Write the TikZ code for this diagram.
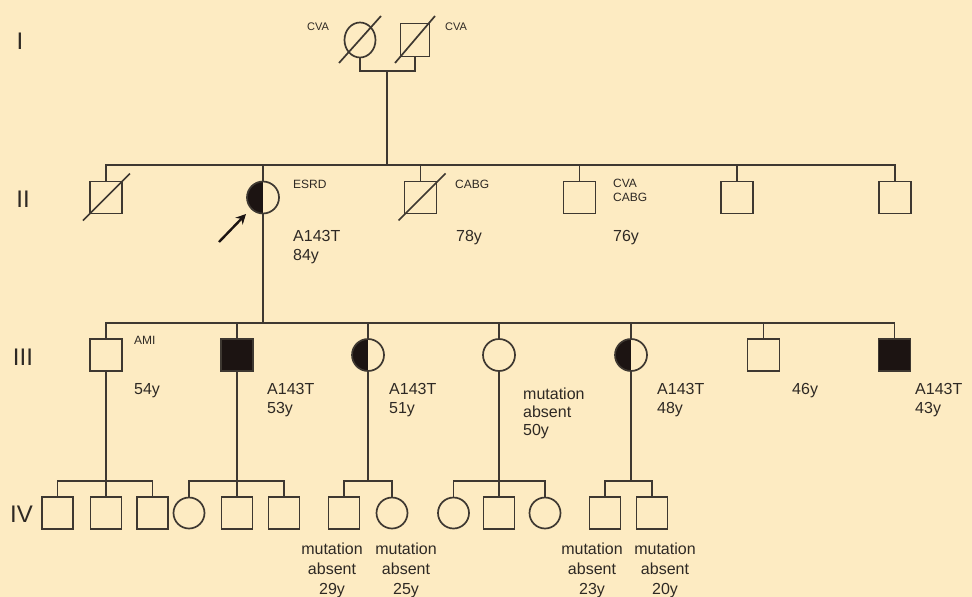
\documentclass[tikz,border=0pt]{standalone}
\usepackage{fontspec}
\setmainfont{Liberation Sans}
\usetikzlibrary{arrows.meta,shapes.geometric}
\definecolor{bg}{HTML}{FDEBC2}
\definecolor{ln}{HTML}{3E3831}
\definecolor{fillk}{HTML}{1C1412}
\definecolor{txt}{HTML}{2E2924}
\begin{document}
\begin{tikzpicture}[x=1pt,y=-1pt,
  ind/.style={draw=ln, line width=1.7pt, inner sep=0pt, outer sep=0pt},
  male/.style={ind, rectangle, minimum width=32pt, minimum height=32pt},
  female/.style={ind, circle, minimum size=32pt},
  malei/.style={ind, rectangle, minimum width=29pt, minimum height=33pt},
  femalei/.style={ind, ellipse, minimum width=31pt, minimum height=35pt},
  malev/.style={ind, rectangle, minimum width=31pt, minimum height=32pt},
  femalev/.style={ind, circle, minimum size=31pt},
  aff/.style={fill=fillk},
  carrier/.style={path picture={\fill[fillk] (path picture bounding box.south west) rectangle (path picture bounding box.north);}},
  conn/.style={draw=ln, line width=1.7pt},
  tiny/.style={font=\fontsize{11}{14}\selectfont, text=txt, inner sep=0pt, anchor=base west},
  small/.style={font=\fontsize{12}{14}\selectfont, text=txt, inner sep=0pt, anchor=base west, align=left},
  lab/.style={font=\fontsize{16}{19}\selectfont, text=txt, inner sep=0pt, anchor=base west, align=left},
  labc/.style={font=\fontsize{16}{20}\selectfont, text=txt, inner sep=0pt, anchor=base, align=center},
  gen/.style={font=\fontsize{24}{24}\selectfont, text=txt, inner sep=0pt, anchor=base},
  slash/.style={draw=ln, line width=1.7pt}
]
\useasboundingbox[fill=bg] (0,0) rectangle (972,597);

% generation labels
\node[gen] (gI) at (20,49) {I};
\node[gen] (gII) at (23,207) {II};
\node[gen] (gIII) at (23,365) {III};
\node[gen, anchor=base west] (gIV) at (10,522) {IV};

% ---------- Generation I ----------
\node[femalei] (i1) at (360,40) {};
\node[malei] (i2) at (415,40) {};
\draw[slash] ([shift={(-21,23)}]i1.center) -- ([shift={(21,-24)}]i1.center);
\draw[slash] ([shift={(-20,23)}]i2.center) -- ([shift={(20,-24)}]i2.center);
\node[tiny] (cva1) at (307,30) {CVA};
\node[tiny] (cva2) at (445,30) {CVA};
\coordinate (m1) at (387,71);
\draw[conn] (i1.south) -- (i1.south |- m1) -- (i2.south |- m1) -- (i2.south);

% ---------- Generation II ----------
\coordinate (s2) at (0,165);
\node[male] (ii1) at (106,197.5) {};
\node[female, carrier] (ii2) at (263,197.5) {};
\node[male] (ii3) at (420.5,197.5) {};
\node[male] (ii4) at (579.5,197.5) {};
\node[male] (ii5) at (737,197.5) {};
\node[male] (ii6) at (895,197.5) {};
\draw[slash] ([shift={(-23,23)}]ii1.center) -- ([shift={(24,-24)}]ii1.center);
\draw[slash] ([shift={(-22,23)}]ii3.center) -- ([shift={(25,-24)}]ii3.center);
\draw[conn] (m1) -- (m1 |- s2);
\draw[conn] (ii1.north) -- (ii1.north |- s2) -- (ii6.north |- s2) -- (ii6.north);
\foreach \n in {ii2,ii3,ii4,ii5} \draw[conn] (\n.north) -- (\n.north |- s2);

\node[small] (l-esrd) at (293,188) {ESRD};
\node[lab] (l-ii2) at (293,260) {A143T\\84y};
\node[small] (l-cabg) at (455,188) {CABG};
\node[lab] (l-ii3) at (456,241) {78y};
\node[small] (l-ii4a) at (613,201) {CVA\\CABG};
\node[lab] (l-ii4) at (613,241) {76y};

\coordinate (arT) at (219,242);
\coordinate (arH) at (246,214);
\draw[draw=fillk, line width=2.4pt, -{Stealth[length=10pt,width=10pt]}] (arT) -- (arH);

% ---------- Generation III ----------
\coordinate (s3) at (0,323);
\node[male] (iii1) at (106,355) {};
\node[male, aff] (iii2) at (237,355) {};
\node[female, carrier] (iii3) at (368,355) {};
\node[female] (iii4) at (499,355) {};
\node[female, carrier] (iii5) at (631,355) {};
\node[male] (iii6) at (763.5,355) {};
\node[male, aff] (iii7) at (894.5,355) {};
\draw[conn] (ii2.south) -- (ii2.south |- s3);
\draw[conn] (iii1.north) -- (iii1.north |- s3) -- (iii7.north |- s3) -- (iii7.north);
\foreach \n in {iii2,iii3,iii4,iii5,iii6} \draw[conn] (\n.north) -- (\n.north |- s3);

\node[small] (l-ami) at (134,344) {AMI};
\node[lab] (l-iii1) at (134,394) {54y};
\node[lab] (l-iii2) at (267,413) {A143T\\53y};
\node[lab] (l-iii3) at (389,413) {A143T\\51y};
\node[lab, font=\fontsize{16}{18}\selectfont] (l-iii4) at (523,435) {mutation\\absent\\50y};
\node[lab] (l-iii5) at (657,413) {A143T\\48y};
\node[lab] (l-iii6) at (792,394) {46y};
\node[lab] (l-iii7) at (915,413) {A143T\\43y};

% ---------- Generation IV ----------
\coordinate (s4) at (0,481);
\node[malev] (a1) at (57.5,513) {};
\node[malev] (a2) at (106,513) {};
\node[malev] (a3) at (152.5,513) {};
\node[femalev] (b1) at (189,513) {};
\node[malev] (b2) at (237,513) {};
\node[malev] (b3) at (284,513) {};
\node[malev] (c1) at (344,513) {};
\node[femalev] (c2) at (392,513) {};
\node[femalev] (d1) at (453.5,513) {};
\node[malev] (d2) at (499,513) {};
\node[femalev] (d3) at (545,513) {};
\node[malev] (e1) at (605,513) {};
\node[malev] (e2) at (652,513) {};

\draw[conn] (iii1.south) -- (a2.north);
\draw[conn] (a1.north) -- (a1.north |- s4) -- (a3.north |- s4) -- (a3.north);
\draw[conn] (iii2.south) -- (b2.north);
\draw[conn] (b1.north) -- (b1.north |- s4) -- (b3.north |- s4) -- (b3.north);
\draw[conn] (iii3.south) -- (iii3.south |- s4);
\draw[conn] (c1.north) -- (c1.north |- s4) -- (c2.north |- s4) -- (c2.north);
\draw[conn] (iii4.south) -- (d2.north);
\draw[conn] (d1.north) -- (d1.north |- s4) -- (d3.north |- s4) -- (d3.north);
\draw[conn] (iii5.south) -- (iii5.south |- s4);
\draw[conn] (e1.north) -- (e1.north |- s4) -- (e2.north |- s4) -- (e2.north);

\node[labc] (l-c1) at (332,594) {mutation\\absent\\29y};
\node[labc] (l-c2) at (406,594) {mutation\\absent\\25y};
\node[labc] (l-e1) at (592,594) {mutation\\absent\\23y};
\node[labc] (l-e2) at (665,594) {mutation\\absent\\20y};
\end{tikzpicture}
\end{document}
